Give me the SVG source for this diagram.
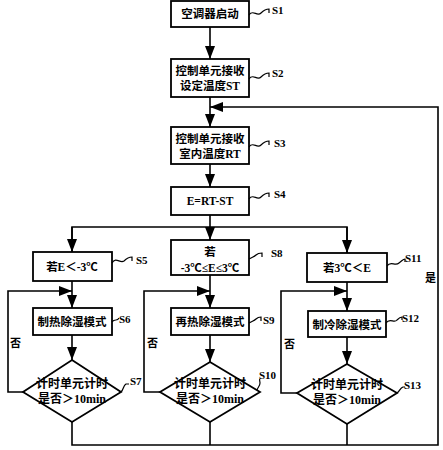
<svg xmlns="http://www.w3.org/2000/svg" width="443" height="450" viewBox="0 0 443 450">
<defs>
<marker id="arr" markerUnits="userSpaceOnUse" markerWidth="14" markerHeight="11" refX="13" refY="5" orient="auto">
<path d="M0,0 L13,5 L0,10 z" fill="#000"/>
</marker>
<style>
.box{fill:#fff;stroke:#000;stroke-width:1.8}
.ln{fill:none;stroke:#000;stroke-width:1.6}
.sq{fill:none;stroke:#000;stroke-width:1.2}
.t{font-family:"Liberation Serif","Noto Sans CJK SC",serif;font-size:11.5px;font-weight:bold;text-anchor:middle;fill:#000}
.d{font-family:"Liberation Serif","Noto Sans CJK SC",serif;font-size:12px;font-weight:bold;text-anchor:middle;fill:#000}
.lb{font-family:"Liberation Serif","Noto Sans CJK SC",serif;font-size:11px;font-weight:bold;fill:#000}
</style>
</defs>
<rect width="443" height="450" fill="#fff"/>
<g id="connectors">
<line class="ln" x1="210" y1="27" x2="210" y2="59" marker-end="url(#arr)"/>
<line class="ln" x1="210" y1="97" x2="210" y2="127" marker-end="url(#arr)"/>
<line class="ln" x1="210" y1="164" x2="210" y2="187" marker-end="url(#arr)"/>
<line class="ln" x1="210" y1="215" x2="210" y2="240" marker-end="url(#arr)"/>
<polyline class="ln" points="72,252 72,227 347,227 347,253"/>
<line class="ln" x1="72" y1="227" x2="72" y2="252" marker-end="url(#arr)"/>
<line class="ln" x1="347" y1="227" x2="347" y2="253" marker-end="url(#arr)"/>
<line class="ln" x1="72" y1="281" x2="72" y2="308" marker-end="url(#arr)"/>
<line class="ln" x1="210" y1="275" x2="210" y2="308" marker-end="url(#arr)"/>
<line class="ln" x1="347" y1="282" x2="347" y2="311" marker-end="url(#arr)"/>
<polyline class="ln" points="23,392 8,392 8,291 72,291" marker-end="url(#arr)"/>
<polyline class="ln" points="160,392 144,392 144,291 210,291" marker-end="url(#arr)"/>
<polyline class="ln" points="297,393 281,393 281,291 347,291" marker-end="url(#arr)"/>
<line class="ln" x1="72" y1="335" x2="72" y2="360" marker-end="url(#arr)"/>
<line class="ln" x1="210" y1="335" x2="210" y2="362" marker-end="url(#arr)"/>
<line class="ln" x1="347" y1="337" x2="347" y2="364" marker-end="url(#arr)"/>
<polyline class="ln" points="72,422 72,445 438,445 438,107 210,107" marker-end="url(#arr)"/>
<line class="ln" x1="210" y1="422" x2="210" y2="445"/>
<line class="ln" x1="347" y1="424" x2="347" y2="445"/>
<text class="lb" x="10" y="347">否</text>
<text class="lb" x="147" y="347">否</text>
<text class="lb" x="284" y="348">否</text>
<text class="lb" x="425" y="282">是</text>
</g>
<g id="S1">
<rect class="box" x="171" y="1" width="78" height="26"/>
<text class="t" x="210" y="18">空调器启动</text>
<path class="sq" d="M249,15 c4,-6 8,2 12,-2 c3,-3 5,-4 8,-4 v4"/>
<text class="lb" x="272" y="14">S1</text>
</g>
<g id="S2">
<rect class="box" x="171" y="59" width="78" height="38"/>
<text class="t" x="210" y="75">控制单元接收</text>
<text class="t" x="210" y="90">设定温度ST</text>
<path class="sq" d="M249,79 c4,-6 8,2 12,-2 c3,-3 5,-4 8,-4 v4"/>
<text class="lb" x="272" y="77">S2</text>
</g>
<g id="S3">
<rect class="box" x="171" y="127" width="78" height="37"/>
<text class="t" x="210" y="143">控制单元接收</text>
<text class="t" x="210" y="158">室内温度RT</text>
<path class="sq" d="M249,147 c4,-6 8,2 12,-2 c3,-3 5,-4 8,-4 v4"/>
<text class="lb" x="274" y="147">S3</text>
</g>
<g id="S4">
<rect class="box" x="171" y="187" width="78" height="28"/>
<text class="t" x="210" y="205">E=RT-ST</text>
<path class="sq" d="M249,199 c4,-6 8,2 12,-2 c3,-3 5,-4 8,-4 v4"/>
<text class="lb" x="274" y="198">S4</text>
</g>
<g id="S5">
<rect class="box" x="33" y="252" width="79" height="29"/>
<text class="t" x="72" y="271">若E＜-3℃</text>
<path class="sq" d="M112,263 c4,-7 8,1 12,-2 c3,-3 5,-4 8,-4 v4"/>
<text class="lb" x="136" y="264">S5</text>
</g>
<g id="S6">
<rect class="box" x="33" y="308" width="79" height="27"/>
<text class="t" x="72" y="326">制热除湿模式</text>
<path class="sq" d="M112,322 c3,-4 5,0 7,-4"/>
<text class="lb" x="119" y="323">S6</text>
</g>
<g id="S7">
<polygon class="box" points="72,360 121,392 72,422 23,392"/>
<text class="d" x="72" y="388">计时单元计时</text>
<text class="d" x="72" y="403">是否＞10min</text>
<path class="sq" d="M121,392 c3,-3 2,-6 5,-8 h3"/>
<text class="lb" x="130" y="385">S7</text>
</g>
<g id="S8">
<rect class="box" x="171" y="240" width="78" height="35"/>
<text class="t" x="210" y="256">若</text>
<text class="t" x="210" y="272">-3℃≤E≤3℃</text>
<path class="sq" d="M249,259 c3,-2 5,-2 7,-4 c2,-2 4,-2 6,-2 v4"/>
<text class="lb" x="271" y="257">S8</text>
</g>
<g id="S9">
<rect class="box" x="171" y="308" width="78" height="27"/>
<text class="t" x="210" y="326">再热除湿模式</text>
<path class="sq" d="M249,323 c3,-2 5,-2 7,-4 c2,-2 4,-2 5,-2 v4"/>
<text class="lb" x="263" y="324">S9</text>
</g>
<g id="S10">
<polygon class="box" points="210,362 260,392 210,422 160,392"/>
<text class="d" x="210" y="388">计时单元计时</text>
<text class="d" x="210" y="403">是否＞10min</text>
<path class="sq" d="M257,390 c1,-3 3,-4 3,-7 c0,-2 -1,-3 0,-4"/>
<text class="lb" x="259" y="379">S10</text>
</g>
<g id="S11">
<rect class="box" x="307" y="253" width="80" height="29"/>
<text class="t" x="347" y="272">若3℃＜E</text>
<path class="sq" d="M387,266 c4,-6 8,1 12,-3 c3,-2 4,-4 6,-4 v3"/>
<text class="lb" x="405" y="262">S11</text>
</g>
<g id="S12">
<rect class="box" x="308" y="311" width="78" height="26"/>
<text class="t" x="347" y="329">制冷除湿模式</text>
<path class="sq" d="M386,323 c4,-6 8,1 11,-3 c2,-2 3,-3 5,-3 v3"/>
<text class="lb" x="402" y="322">S12</text>
</g>
<g id="S13">
<polygon class="box" points="347,364 397,393 347,424 297,393"/>
<text class="d" x="347" y="389">计时单元计时</text>
<text class="d" x="347" y="404">是否＞10min</text>
<path class="sq" d="M397,393 c3,-2 3,-5 6,-6 h2"/>
<text class="lb" x="404" y="389">S13</text>
</g>
</svg>
